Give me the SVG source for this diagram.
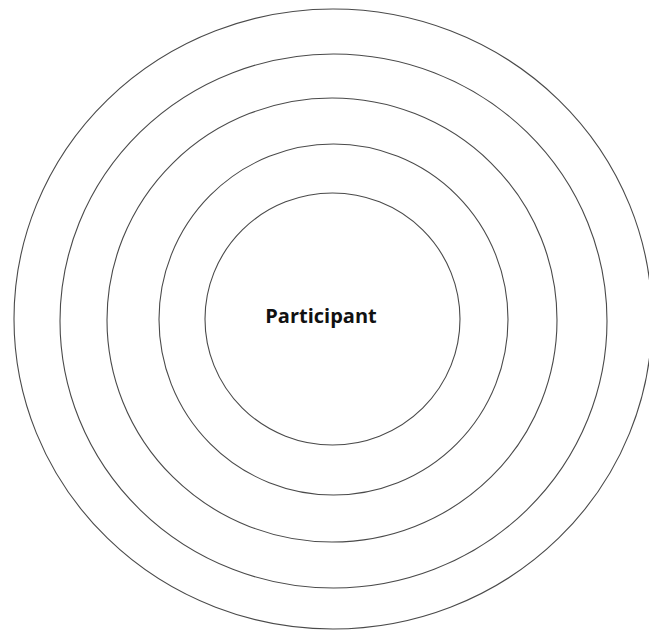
<svg xmlns="http://www.w3.org/2000/svg" width="649" height="630" viewBox="0 0 649 630">
<style>
.ring{fill:none;stroke:#4a4a4a;stroke-width:1.1}
.lbl{font-family:"Open Sans","Liberation Sans",sans-serif;font-weight:bold;font-size:20px;fill:#111}
</style>
<rect width="649" height="630" fill="#fff"/>
<g id="ring5"><ellipse class="ring" cx="333" cy="319" rx="319" ry="310"/></g>
<g id="ring4"><ellipse class="ring" cx="333.5" cy="321" rx="273.5" ry="267"/></g>
<g id="ring3"><ellipse class="ring" cx="332" cy="320" rx="225" ry="222"/></g>
<g id="ring2"><ellipse class="ring" cx="333.5" cy="319.5" rx="174.5" ry="175.5"/></g>
<g id="participant"><ellipse class="ring" cx="332.5" cy="319" rx="127.5" ry="126"/>
<text class="lbl" x="321" y="323" text-anchor="middle">Participant</text></g>
<g id="connectors"/>
</svg>
